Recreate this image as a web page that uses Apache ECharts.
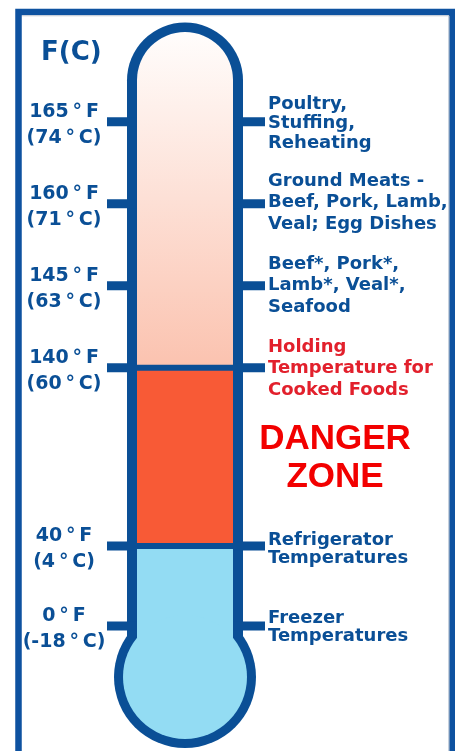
<!DOCTYPE html>
<html><head><meta charset="utf-8">
<script src="https://cdn.jsdelivr.net/npm/echarts@6/dist/echarts.min.js"></script>
<style>html,body{margin:0;padding:0;background:#fff;}#chart{width:455px;height:751px;}</style>
</head><body><div id="chart"></div>
<script>
// ---------- data ----------
const axisTitle = 'F(C)';
const tempF = [0, 40, 140, 145, 160, 165];
const tempC = [-18, 4, 60, 63, 71, 74];
// where each mark sits along the thermometer (the gauge is not linear in degrees)
const gaugePos = [0, 0.975, 3.15, 4.15, 5.15, 6.15];
const notes = [
  'Freezer\nTemperatures',
  'Refrigerator\nTemperatures',
  'Holding\nTemperature for\nCooked Foods',
  'Beef*, Pork*,\nLamb*, Veal*,\nSeafood',
  'Ground Meats -\nBeef, Pork, Lamb,\nVeal; Egg Dishes',
  'Poultry,\nStuffing,\nReheating'
];
const zoneFromF = [0, 40, 140];
const zoneToF = [40, 140, 165];
const zoneLabels = ['', 'DANGER\nZONE', ''];

// ---------- styles / layout ----------
const BLUE = '#0a4f96';
const FRAME = '#0e52a0';
const S = {
  tubeTop: 22.5, outerHalf: 58, innerHalf: 48, wall: 9.5,
  bulbCy: 677, bulbR: 71, bulbRi: 62,
  tickL: 78, tickR: 80, tickW: 9, gap: 3,
  leftX: 64, leftDy: 3, leftLH: 26,
  noteX: 268,
  noteLH: [18, 18, 21.5, 21.5, 21.5, 19.5],
  noteDy: [1, 3, 1, 0, -1, 2],
  noteColor: [BLUE, BLUE, '#e2202c', BLUE, BLUE, BLUE]
};
const zoneFill = [
  '#93dcf3',
  '#f85a36',
  new echarts.graphic.LinearGradient(0, 0, 0, 1, [
    { offset: 0, color: '#fffdfc' }, { offset: 1, color: '#fbc3b0' }
  ])
];
const posOfF = f => gaugePos[tempF.indexOf(f)];
const fmtDeg = (v, u) => v + '\u2009°\u2009' + u;

const chart = echarts.init(document.getElementById('chart'), null, { renderer: 'canvas' });

const markData = tempF.map((f, i) => [0, gaugePos[i], i]);
const zoneData = zoneFromF.map((f, i) => [0, posOfF(f), posOfF(zoneToF[i]), i]);

function shellItem(params, api) {
  const cx = api.coord([0, 0])[0];
  return { type: 'group', children: [
    { type: 'rect', shape: { x: cx - S.outerHalf, y: S.tubeTop, width: S.outerHalf * 2,
        height: S.bulbCy - S.tubeTop, r: [S.outerHalf, S.outerHalf, 0, 0] }, style: { fill: BLUE } },
    { type: 'circle', shape: { cx: cx, cy: S.bulbCy, r: S.bulbR }, style: { fill: BLUE } }
  ]};
}

function markItem(params, api) {
  const i = api.value(2);
  const p = api.coord([0, api.value(1)]);
  const cx = p[0], y = p[1];
  return { type: 'group', children: [
    { type: 'rect', shape: { x: cx - S.tickL, y: y - S.tickW / 2, width: S.tickL + S.tickR, height: S.tickW },
      style: { fill: BLUE } },
    { type: 'text', style: { x: S.leftX, y: y + S.leftDy,
        text: fmtDeg(tempF[i], 'F') + '\n(' + fmtDeg(tempC[i], 'C') + ')',
        align: 'center', verticalAlign: 'middle', lineHeight: S.leftLH,
        font: 'bold 19px "DejaVu Sans"', fill: BLUE } },
    { type: 'text', style: { x: S.noteX, y: y + S.noteDy[i], text: notes[i],
        align: 'left', verticalAlign: 'middle', lineHeight: S.noteLH[i],
        font: 'bold 18px "DejaVu Sans"', fill: S.noteColor[i] } }
  ]};
}

function zoneItem(params, api) {
  const i = api.value(3);
  const lo = api.coord([0, api.value(1)]);
  const hi = api.coord([0, api.value(2)]);
  const cx = lo[0];
  const first = i === 0, last = i === zoneData.length - 1;
  const yTop = last ? S.tubeTop + S.wall : hi[1] + S.gap;
  const yBot = first ? S.bulbCy : lo[1] - S.gap;
  const ch = [
    { type: 'rect', shape: { x: cx - S.innerHalf, y: yTop, width: S.innerHalf * 2, height: yBot - yTop,
        r: last ? [S.innerHalf, S.innerHalf, 0, 0] : 0 }, style: { fill: zoneFill[i] } }
  ];
  if (first) ch.push({ type: 'circle', shape: { cx: cx, cy: S.bulbCy, r: S.bulbRi }, style: { fill: zoneFill[i] } });
  if (zoneLabels[i]) ch.push({ type: 'text', style: { x: cx + 150, y: (lo[1] + hi[1]) / 2 + 1,
      text: zoneLabels[i], align: 'center', verticalAlign: 'middle', lineHeight: 38,
      font: 'bold 35px "Liberation Sans"', fill: '#f20000' } });
  return { type: 'group', children: ch };
}

chart.setOption({
  animation: false,
  backgroundColor: '#ffffff',
  title: { text: axisTitle, left: 41, top: 40, padding: 0,
    textStyle: { fontSize: 26, fontWeight: 'bold', fontFamily: 'DejaVu Sans', color: BLUE } },
  graphic: [
    { type: 'rect', z: 0, shape: { x: 18.5, y: 12, width: 433.5, height: 800 },
      style: { fill: null, stroke: FRAME, lineWidth: 6.5 } },
    { type: 'polyline', z: 0, shape: { points: [[22, 15.8], [449, 15.8], [449, 751]] },
      style: { fill: null, stroke: '#c9cdd4', lineWidth: 1 } }
  ],
  grid: { left: 0, right: 85, top: 11, bottom: 2 },
  xAxis: { type: 'category', data: ['gauge'], show: false },
  yAxis: { type: 'value', min: -1.5, max: 7.5, show: false },
  series: [
    { type: 'custom', name: 'shell', z: 1, data: [[0, 0]], renderItem: shellItem, silent: true },
    { type: 'custom', name: 'marks', z: 2, data: markData, renderItem: markItem, silent: true },
    { type: 'custom', name: 'zones', z: 3, data: zoneData, renderItem: zoneItem, silent: true }
  ]
});
</script></body></html>
